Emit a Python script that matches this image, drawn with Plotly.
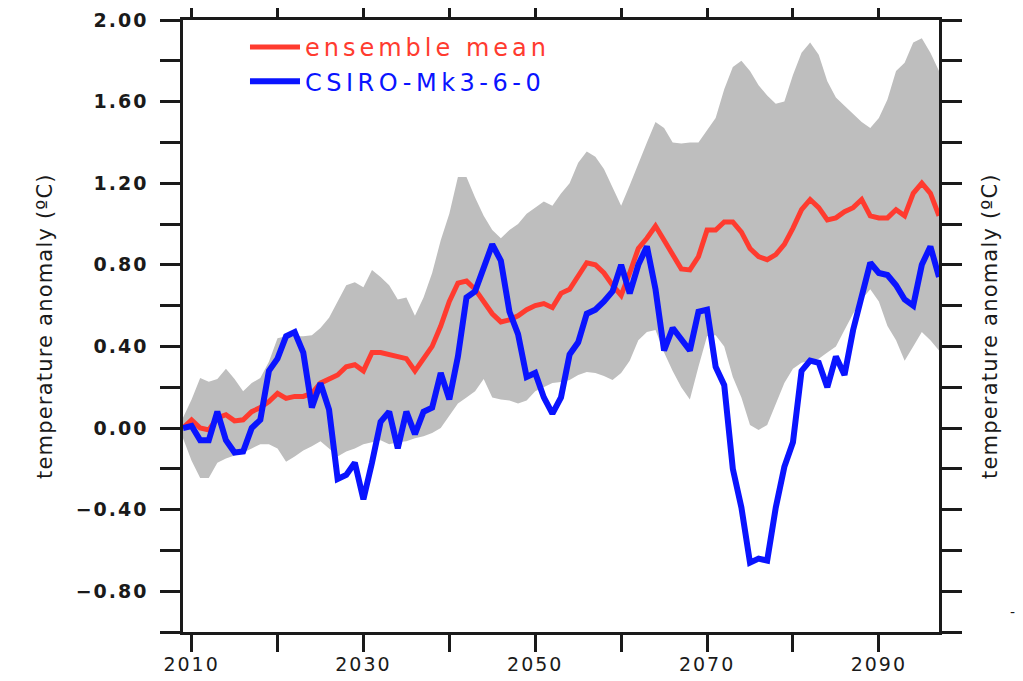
import plotly.graph_objects as go

years = list(range(2009, 2098))

ensemble_mean = [
    0.00, 0.04, 0.00, -0.01, 0.05, 0.065, 0.035, 0.04, 0.08, 0.10,
    0.13, 0.17, 0.145, 0.155, 0.155, 0.17, 0.22, 0.24, 0.26, 0.30,
    0.31, 0.28, 0.37, 0.37, 0.36, 0.35, 0.34, 0.28, 0.34, 0.40,
    0.50, 0.62, 0.71, 0.72, 0.68, 0.62, 0.56, 0.52, 0.53, 0.55,
    0.58, 0.60, 0.61, 0.59, 0.66, 0.68, 0.75, 0.81, 0.80, 0.76,
    0.70, 0.65, 0.76, 0.88, 0.93, 0.99, 0.92, 0.85, 0.78, 0.775,
    0.84, 0.97, 0.97, 1.01, 1.01, 0.96, 0.88, 0.84, 0.825, 0.85,
    0.90, 0.98, 1.07, 1.12, 1.08, 1.02, 1.03, 1.06, 1.08, 1.12,
    1.04, 1.03, 1.03, 1.07, 1.04, 1.15, 1.20, 1.15, 1.04,
]

csiro = [
    0.00, 0.01, -0.06, -0.06, 0.08, -0.06, -0.12, -0.115, 0.00, 0.04,
    0.28, 0.34, 0.45, 0.47, 0.37, 0.10, 0.22, 0.09, -0.25, -0.23,
    -0.17, -0.35, -0.17, 0.03, 0.08, -0.10, 0.08, -0.03, 0.08, 0.10,
    0.27, 0.14, 0.35, 0.64, 0.67, 0.78, 0.90, 0.82, 0.57, 0.46,
    0.25, 0.27, 0.15, 0.07, 0.15, 0.36, 0.42, 0.56, 0.58, 0.62,
    0.67, 0.80, 0.66, 0.80, 0.89, 0.68, 0.38, 0.49, 0.43, 0.38,
    0.57, 0.58, 0.30, 0.21, -0.20, -0.39, -0.66, -0.64, -0.65, -0.39,
    -0.19, -0.07, 0.28, 0.33, 0.32, 0.20, 0.35, 0.26, 0.48, 0.66,
    0.81, 0.76, 0.75, 0.70, 0.63, 0.60, 0.80, 0.89, 0.74,
]

band_upper = [
    0.05, 0.14, 0.245, 0.227, 0.24, 0.29, 0.24, 0.18, 0.22, 0.245,
    0.325, 0.44, 0.45, 0.45, 0.45, 0.455, 0.49, 0.54, 0.62, 0.70,
    0.715, 0.69, 0.775, 0.74, 0.70, 0.63, 0.64, 0.55, 0.64, 0.76,
    0.92, 1.05, 1.23, 1.23, 1.13, 1.04, 0.97, 0.93, 0.97, 1.00,
    1.05, 1.08, 1.11, 1.09, 1.15, 1.20, 1.30, 1.355, 1.33, 1.27,
    1.18, 1.09, 1.19, 1.30, 1.40, 1.50, 1.47, 1.40, 1.395, 1.40,
    1.40, 1.46, 1.52, 1.66, 1.77, 1.80, 1.75, 1.68, 1.63, 1.59,
    1.60, 1.73, 1.84, 1.89, 1.83, 1.70, 1.62, 1.58, 1.54, 1.50,
    1.47, 1.52, 1.61, 1.75, 1.79, 1.89, 1.91, 1.84, 1.75,
]

band_lower = [
    -0.05, -0.16, -0.245, -0.245, -0.17, -0.15, -0.135, -0.12, -0.10, -0.08,
    -0.08, -0.10, -0.165, -0.14, -0.11, -0.09, -0.065, -0.10, -0.14, -0.115,
    -0.10, -0.08, -0.07, -0.06, -0.08, -0.07, -0.065, -0.05, -0.04, -0.025,
    0.00, 0.06, 0.12, 0.15, 0.18, 0.24, 0.15, 0.14, 0.135, 0.12,
    0.135, 0.18, 0.20, 0.22, 0.225, 0.235, 0.26, 0.275, 0.27, 0.255,
    0.235, 0.27, 0.33, 0.43, 0.47, 0.48, 0.37, 0.28, 0.20, 0.14,
    0.30, 0.45, 0.455, 0.40, 0.25, 0.15, 0.015, -0.01, 0.015, 0.12,
    0.22, 0.29, 0.32, 0.33, 0.34, 0.37, 0.40, 0.48, 0.56, 0.63,
    0.68, 0.62, 0.50, 0.43, 0.33, 0.40, 0.47, 0.43, 0.38,
]

x_tickvals = [2010, 2030, 2050, 2070, 2090]
y_tickvals = [-0.8, -0.4, 0.0, 0.4, 0.8, 1.2, 1.6, 2.0]
y_title = "temperature anomaly (ºC)"
name_mean = "ensemble mean"
name_model = "CSIRO-Mk3-6-0"

RED = "#ff3b2f"
BLUE = "#0a14ff"
GRAY = "#bebebe"
AX = "#1a1a1a"
FONT = "DejaVu Sans"


def spaced(txt, px, color=None):
    style = f"letter-spacing:{px}px"
    if color:
        style = f"color:{color};" + style
    return f'<span style="{style}">{txt}</span>'


fig = go.Figure()
fig.add_trace(go.Scatter(x=years, y=band_lower, mode="lines", line=dict(width=0, color=GRAY),
                         showlegend=False, hoverinfo="skip"))
fig.add_trace(go.Scatter(x=years, y=band_upper, mode="lines", line=dict(width=0, color=GRAY),
                         fill="tonexty", fillcolor=GRAY, showlegend=False, hoverinfo="skip"))
fig.add_trace(go.Scatter(x=years, y=ensemble_mean, mode="lines", line=dict(color=RED, width=5),
                         name=spaced(name_mean, 4, RED)))
fig.add_trace(go.Scatter(x=years, y=csiro, mode="lines", line=dict(color=BLUE, width=6),
                         name=spaced(name_model, 4.5, BLUE)))

# page body has an 8px margin: figure is shifted by 8px right/down in the window
fig.update_layout(
    width=1015, height=673,
    margin=dict(l=175, r=84, t=12, b=49, autoexpand=False),
    paper_bgcolor="white", plot_bgcolor="white",
    font=dict(family=FONT, color=AX),
    showlegend=True,
    legend=dict(x=0.082, y=0.992, xanchor="left", yanchor="top", traceorder="normal",
                bgcolor="rgba(0,0,0,0)", font=dict(family=FONT, size=24),
                itemwidth=50, tracegroupgap=0),
)

fig.update_xaxes(
    range=[2009, 2097], showgrid=False, zeroline=False, automargin=False,
    showline=True, linecolor=AX, linewidth=2.5, mirror="ticks",
    tickmode="array", tickvals=x_tickvals, ticktext=[spaced(str(v), 2) for v in x_tickvals],
    ticks="outside", ticklen=17, tickwidth=2.5, tickcolor=AX,
    minor=dict(tickmode="linear", tick0=2010, dtick=10, ticks="outside", ticklen=17,
               tickwidth=2.5, tickcolor=AX, showgrid=False),
    tickfont=dict(family=FONT, size=19, color=AX),
    ticklabelstandoff=-4,
)
fig.update_yaxes(
    range=[-1.0, 2.0], showgrid=False, zeroline=False, automargin=False,
    showline=True, linecolor=AX, linewidth=2.5, mirror="ticks",
    tickmode="array", tickvals=y_tickvals,
    ticktext=[spaced(f"{v:.2f}".replace("-", "\u2212"), 2) for v in y_tickvals],
    ticks="outside", ticklen=20, tickwidth=2.5, tickcolor=AX,
    minor=dict(tickmode="linear", tick0=-1.0, dtick=0.2, ticks="outside", ticklen=20,
               tickwidth=2.5, tickcolor=AX, showgrid=False),
    tickfont=dict(family=FONT, size=19, color=AX, weight="bold"),
    ticklabelstandoff=8,
)

fig.add_annotation(text=spaced(y_title, 1.2), xref="paper", yref="paper", x=(45 - 183) / 756, y=0.5,
                   xanchor="center", yanchor="middle", textangle=-90, showarrow=False,
                   font=dict(family=FONT, size=21, color=AX))
fig.add_annotation(text=spaced(y_title, 1.2), xref="paper", yref="paper", x=(990 - 183) / 756, y=0.5,
                   xanchor="center", yanchor="middle", textangle=-90, showarrow=False,
                   font=dict(family=FONT, size=21, color=AX))
fig.add_annotation(text="-", xref="paper", yref="paper", x=(1012 - 183) / 756, y=(632 - 612) / 612,
                   xanchor="center", yanchor="middle", showarrow=False,
                   font=dict(family=FONT, size=14, color=AX))

fig.write_html("out.html")
